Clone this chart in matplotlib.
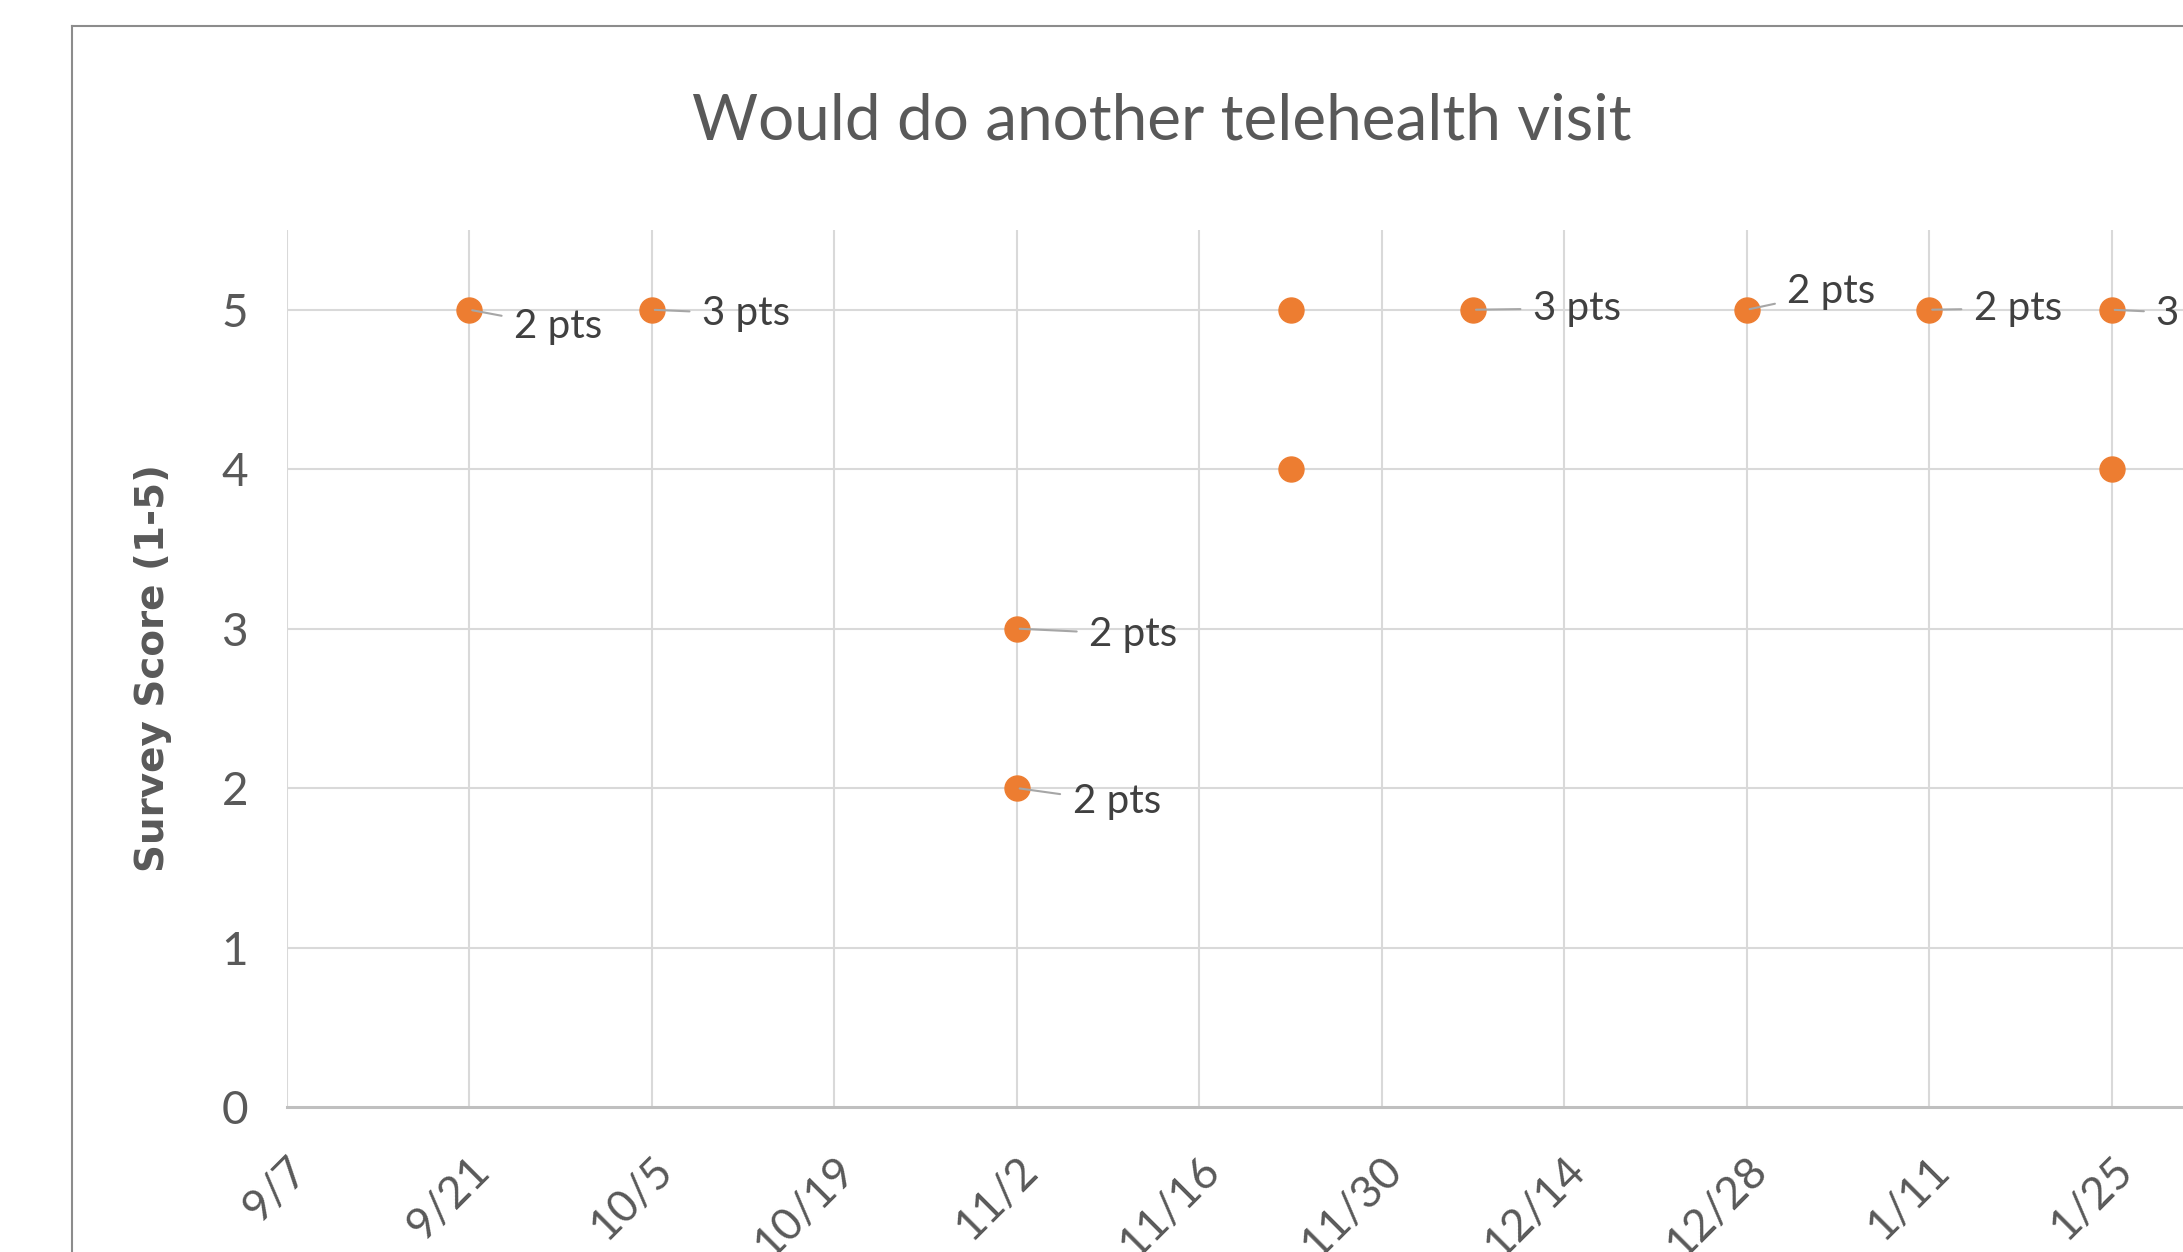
import matplotlib
matplotlib.use("Agg")
import matplotlib.pyplot as plt
import matplotlib.dates as mdates
import matplotlib.transforms as mtransforms
from matplotlib.lines import Line2D
import datetime as dt

# ---- data ----
dates = ["2020-09-21", "2020-10-05", "2020-11-02", "2020-11-02", "2020-11-23",
         "2020-11-23", "2020-12-07", "2020-12-28", "2021-01-11", "2021-01-25", "2021-01-25"]
scores = [5, 5, 3, 2, 5, 4, 5, 5, 5, 5, 4]
labels = ["2 pts", "3 pts", "2 pts", "2 pts", "", "", "3 pts", "2 pts", "2 pts", "3 pts", ""]
tick_dates = ["2020-09-07", "2020-09-21", "2020-10-05", "2020-10-19", "2020-11-02", "2020-11-16",
              "2020-11-30", "2020-12-14", "2020-12-28", "2021-01-11", "2021-01-25"]
tick_labels = ["9/7", "9/21", "10/5", "10/19", "11/2", "11/16", "11/30", "12/14", "12/28", "1/11", "1/25"]
y_ticks = [0, 1, 2, 3, 4, 5]
title = "Would do another telehealth visit"
ylabel = "Survey Score (1-5)"

# label offsets (points) relative to marker
label_offsets = [(32, -12), (36, -3), (52, -4), (40, -10), (0, 0), (0, 0),
                 (43, 1), (29, 13), (32, 1), (32, -3), (0, 0)]

NARROW = ["Lato", "DejaVu Sans"]
GRAY_TXT = "#595959"
ORANGE = "#ED7D31"

x = [mdates.date2num(dt.date.fromisoformat(d)) for d in dates]
xt = [mdates.date2num(dt.date.fromisoformat(d)) for d in tick_dates]

W, H = 2183, 1252
fig = plt.figure(figsize=(W / 100, H / 100), dpi=100)
fig.patch.set_facecolor("white")

left = 287 / W
bottom = (H - 1107) / H
top = (H - 230) / H
ax = fig.add_axes([left, bottom, 1.0 - left, top - bottom])

x0 = xt[0]
px_per_day = 13.035
ax.set_xlim(x0, x0 + (W - 287) / px_per_day)
ax.set_ylim(0, 5.5)

# gridlines
for v in y_ticks[1:]:
    ax.axhline(v, color="#d9d9d9", lw=1.5, zorder=0)
for v in xt:
    ax.axvline(v, color="#d9d9d9", lw=1.5, zorder=0)

for s in ["top", "right", "left"]:
    ax.spines[s].set_visible(False)
ax.spines["bottom"].set_color("#bfbfbf")
ax.spines["bottom"].set_linewidth(2.2)

ax.set_yticks(y_ticks)
ax.set_yticklabels([str(v) for v in y_ticks], family=NARROW, fontsize=33, color=GRAY_TXT)
ax.tick_params(axis="y", length=0, pad=28)

ax.set_xticks(xt)
ax.set_xticklabels(tick_labels, family=NARROW, fontsize=32, color=GRAY_TXT,
                   rotation=45, ha="right", va="center", rotation_mode="anchor")
ax.tick_params(axis="x", length=0, pad=0)
offset = mtransforms.ScaledTranslation(10 / 72, -41 / 72, fig.dpi_scale_trans)
for lab in ax.get_xticklabels():
    lab.set_transform(lab.get_transform() + offset)

ax.scatter(x, scores, s=18 ** 2, color=ORANGE, edgecolors=ORANGE, zorder=3, clip_on=False)

for xi, yi, lab, (dx, dy) in zip(x, scores, labels, label_offsets):
    if not lab:
        continue
    ax.annotate(lab, xy=(xi, yi), xytext=(dx, dy), textcoords="offset points",
                ha="left", va="center", family=NARROW, fontsize=29, color="#404040",
                annotation_clip=False,
                arrowprops=dict(arrowstyle="-", color="#a6a6a6", lw=1.5,
                                shrinkA=7, shrinkB=2))

fig.text(1162 / W, 1 - 139 / H, title, ha="center", va="baseline",
         family=NARROW, fontsize=46, color=GRAY_TXT)
fig.text(153 / W, 1 - 668 / H, ylabel, ha="center", va="center", rotation=90,
         family=["DejaVu Sans"], fontweight="bold", fontsize=28, color=GRAY_TXT)

# outer chart border (cropped)
bx = 72 / W
by = 1 - 26 / H
fig.add_artist(Line2D([bx, bx], [-0.1, by], transform=fig.transFigure, color="#8c8c8c", lw=1.5))
fig.add_artist(Line2D([bx, 1.1], [by, by], transform=fig.transFigure, color="#8c8c8c", lw=1.5))

fig.savefig("out.png", dpi=100, facecolor="white")
